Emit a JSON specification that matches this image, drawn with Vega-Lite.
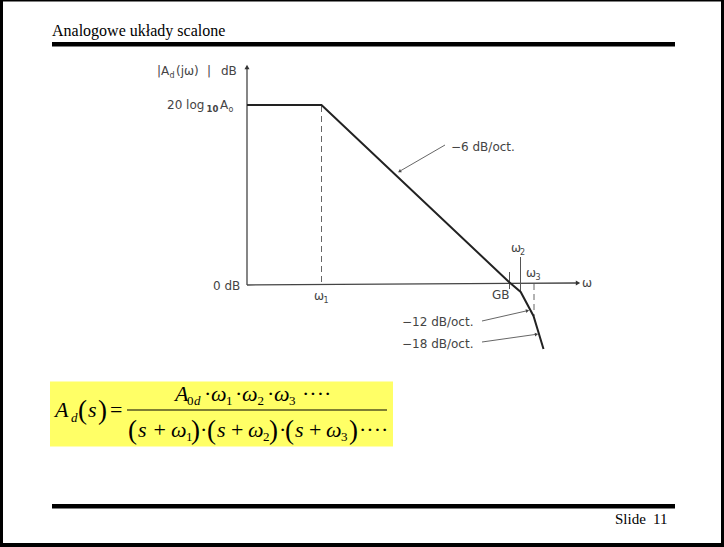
{
  "$schema": "https://vega.github.io/schema/vega-lite/v6.json",
  "width": 724,
  "height": 547,
  "padding": 0,
  "autosize": {"type": "fit", "contains": "padding"},
  "background": "white",
  "config": {"view": {"stroke": null}},
  "datasets": {
    "blocks": [
      {"k": "k", "x": 0, "x2": 724, "y": 0, "y2": 1.6},
      {"k": "k", "x": 0, "x2": 3, "y": 0, "y2": 547},
      {"k": "k", "x": 721, "x2": 724, "y": 0, "y2": 547},
      {"k": "k", "x": 0, "x2": 724, "y": 543, "y2": 547},
      {"k": "k", "x": 52, "x2": 675, "y": 42, "y2": 46.5},
      {"k": "k", "x": 52, "x2": 675, "y": 504, "y2": 508.5},
      {"k": "y", "x": 50, "x2": 393, "y": 381.5, "y2": 446.5}
    ],
    "segs": [
      {"k": "axis", "x": 247, "y": 68, "x2": 247, "y2": 285},
      {"k": "axis", "x": 247, "y": 285, "x2": 576, "y2": 283},
      {"k": "tick", "x": 509.5, "y": 272, "x2": 509.5, "y2": 289},
      {"k": "tick", "x": 520.5, "y": 257, "x2": 520.5, "y2": 292},
      {"k": "dash", "x": 321.5, "y": 106, "x2": 321.5, "y2": 285},
      {"k": "dash", "x": 534, "y": 284, "x2": 534, "y2": 316},
      {"k": "arrow", "x": 445, "y": 145, "x2": 401, "y2": 170.5},
      {"k": "arrow", "x": 482, "y": 321, "x2": 526, "y2": 311},
      {"k": "arrow", "x": 482, "y": 342, "x2": 535, "y2": 334.5},
      {"k": "frac", "x": 127, "y": 410, "x2": 387, "y2": 410}
    ],
    "curve": [
      {"o": 1, "x": 247, "y": 105},
      {"o": 2, "x": 321.5, "y": 105},
      {"o": 3, "x": 509, "y": 282},
      {"o": 4, "x": 520.7, "y": 292},
      {"o": 5, "x": 533.5, "y": 316},
      {"o": 6, "x": 543.5, "y": 349}
    ],
    "heads": [
      {"k": "up", "x": 247, "y": 67},
      {"k": "right", "x": 578, "y": 283},
      {"k": "a6", "x": 399.5, "y": 171.5},
      {"k": "a12", "x": 527.5, "y": 310.7},
      {"k": "a18", "x": 536.5, "y": 334.3}
    ],
    "txt": [
      {"f": "title", "x": 52, "y": 36, "t": "Analogowe układy scalone"},
      {"f": "slide", "x": 615, "y": 524, "t": "Slide"},
      {"f": "slide", "x": 653, "y": 524, "t": "11"},
      {"f": "lab", "x": 157, "y": 75, "t": "|"},
      {"f": "lab", "x": 161, "y": 75, "t": "A"},
      {"f": "lab", "x": 176, "y": 75, "t": "(jω)"},
      {"f": "lab", "x": 207, "y": 75, "t": "|"},
      {"f": "lab", "x": 221, "y": 75, "t": "dB"},
      {"f": "lab", "x": 167, "y": 109, "t": "20 log"},
      {"f": "lab", "x": 220, "y": 109, "t": "A"},
      {"f": "lab", "x": 213, "y": 290, "t": "0 dB"},
      {"f": "lab", "x": 314, "y": 300, "t": "ω"},
      {"f": "lab", "x": 492, "y": 299, "t": "GB"},
      {"f": "lab", "x": 511, "y": 252, "t": "ω"},
      {"f": "lab", "x": 526, "y": 277, "t": "ω"},
      {"f": "lab", "x": 582, "y": 287, "t": "ω"},
      {"f": "lab", "x": 451, "y": 151, "t": "−6 dB/oct."},
      {"f": "lab", "x": 402, "y": 326, "t": "−12 dB/oct."},
      {"f": "lab", "x": 402, "y": 348, "t": "−18 dB/oct."},
      {"f": "sub", "x": 169.5, "y": 78, "t": "d"},
      {"f": "subb", "x": 206.5, "y": 112, "t": "10"},
      {"f": "sub", "x": 228.5, "y": 112, "t": "o"},
      {"f": "sub", "x": 323.5, "y": 303, "t": "1"},
      {"f": "sub", "x": 520, "y": 255, "t": "2"},
      {"f": "sub", "x": 535.5, "y": 280, "t": "3"},
      {"f": "it", "x": 55, "y": 417, "t": "A"},
      {"f": "it", "x": 88, "y": 417, "t": "s"},
      {"f": "it", "x": 175, "y": 401, "t": "A"},
      {"f": "it", "x": 211, "y": 401, "t": "ω"},
      {"f": "it", "x": 242, "y": 401, "t": "ω"},
      {"f": "it", "x": 274, "y": 401, "t": "ω"},
      {"f": "it", "x": 138, "y": 437, "t": "s"},
      {"f": "it", "x": 217, "y": 437, "t": "s"},
      {"f": "it", "x": 295, "y": 437, "t": "s"},
      {"f": "it", "x": 171, "y": 437, "t": "ω"},
      {"f": "it", "x": 248, "y": 437, "t": "ω"},
      {"f": "it", "x": 326, "y": 437, "t": "ω"},
      {"f": "up", "x": 110, "y": 417, "t": "="},
      {"f": "up", "x": 204, "y": 401, "t": "·"},
      {"f": "up", "x": 235, "y": 401, "t": "·"},
      {"f": "up", "x": 267, "y": 401, "t": "·"},
      {"f": "up", "x": 302, "y": 401, "t": "····"},
      {"f": "up", "x": 153.5, "y": 437, "t": "+"},
      {"f": "up", "x": 231, "y": 437, "t": "+"},
      {"f": "up", "x": 309, "y": 437, "t": "+"},
      {"f": "up", "x": 200, "y": 437, "t": "·"},
      {"f": "up", "x": 279, "y": 437, "t": "·"},
      {"f": "up", "x": 359, "y": 437, "t": "····"},
      {"f": "par", "x": 78, "y": 419, "t": "("},
      {"f": "par", "x": 98, "y": 419, "t": ")"},
      {"f": "par", "x": 128, "y": 439, "t": "("},
      {"f": "par", "x": 191, "y": 439, "t": ")"},
      {"f": "par", "x": 207, "y": 439, "t": "("},
      {"f": "par", "x": 269, "y": 439, "t": ")"},
      {"f": "par", "x": 285, "y": 439, "t": "("},
      {"f": "par", "x": 349, "y": 439, "t": ")"},
      {"f": "sit", "x": 71, "y": 422, "t": "d"},
      {"f": "sit", "x": 194, "y": 405, "t": "d"},
      {"f": "sup", "x": 187, "y": 405, "t": "0"},
      {"f": "sup", "x": 226, "y": 405, "t": "1"},
      {"f": "sup", "x": 257.5, "y": 405, "t": "2"},
      {"f": "sup", "x": 289, "y": 405, "t": "3"},
      {"f": "sup", "x": 186, "y": 441, "t": "1"},
      {"f": "sup", "x": 263, "y": 441, "t": "2"},
      {"f": "sup", "x": 341, "y": 441, "t": "3"}
    ]
  },
  "encoding": {
    "x": {"field": "x", "type": "quantitative", "axis": null, "scale": {"domain": [0, 724], "nice": false, "zero": false}},
    "y": {"field": "y", "type": "quantitative", "axis": null, "scale": {"domain": [0, 547], "nice": false, "zero": false, "reverse": true}}
  },
  "layer": [
    {"data": {"name": "blocks"}, "transform": [{"filter": "datum.k === 'k'"}], "mark": {"type": "rect", "color": "black"}, "encoding": {"x2": {"field": "x2"}, "y2": {"field": "y2"}}},
    {"data": {"name": "blocks"}, "transform": [{"filter": "datum.k === 'y'"}], "mark": {"type": "rect", "color": "#ffff66"}, "encoding": {"x2": {"field": "x2"}, "y2": {"field": "y2"}}},
    {"data": {"name": "segs"}, "transform": [{"filter": "datum.k === 'axis'"}], "mark": {"type": "rule", "color": "#444", "strokeWidth": 1.3}, "encoding": {"x2": {"field": "x2"}, "y2": {"field": "y2"}}},
    {"data": {"name": "segs"}, "transform": [{"filter": "datum.k === 'tick'"}], "mark": {"type": "rule", "color": "#555", "strokeWidth": 1}, "encoding": {"x2": {"field": "x2"}, "y2": {"field": "y2"}}},
    {"data": {"name": "segs"}, "transform": [{"filter": "datum.k === 'dash'"}], "mark": {"type": "rule", "color": "#666", "strokeWidth": 1, "strokeDash": [6, 4]}, "encoding": {"x2": {"field": "x2"}, "y2": {"field": "y2"}}},
    {"data": {"name": "segs"}, "transform": [{"filter": "datum.k === 'arrow'"}], "mark": {"type": "rule", "color": "#555", "strokeWidth": 0.9}, "encoding": {"x2": {"field": "x2"}, "y2": {"field": "y2"}}},
    {"data": {"name": "segs"}, "transform": [{"filter": "datum.k === 'frac'"}], "mark": {"type": "rule", "color": "black", "strokeWidth": 1}, "encoding": {"x2": {"field": "x2"}, "y2": {"field": "y2"}}},
    {"data": {"name": "curve"}, "mark": {"type": "line", "color": "#222", "strokeWidth": 2}, "encoding": {"order": {"field": "o"}}},
    {"data": {"name": "heads"}, "transform": [{"filter": "datum.k === 'up'"}], "mark": {"type": "point", "shape": "triangle-up", "filled": true, "color": "#333", "size": 25, "opacity": 1}},
    {"data": {"name": "heads"}, "transform": [{"filter": "datum.k === 'right'"}], "mark": {"type": "point", "shape": "triangle-right", "filled": true, "color": "#333", "size": 25, "opacity": 1}},
    {"data": {"name": "heads"}, "transform": [{"filter": "datum.k === 'a6'"}], "mark": {"type": "point", "shape": "triangle-up", "filled": true, "color": "#444", "size": 14, "angle": 240, "opacity": 1}},
    {"data": {"name": "heads"}, "transform": [{"filter": "datum.k === 'a12'"}], "mark": {"type": "point", "shape": "triangle-up", "filled": true, "color": "#444", "size": 14, "angle": 77, "opacity": 1}},
    {"data": {"name": "heads"}, "transform": [{"filter": "datum.k === 'a18'"}], "mark": {"type": "point", "shape": "triangle-up", "filled": true, "color": "#444", "size": 14, "angle": 82, "opacity": 1}},
    {"data": {"name": "txt"}, "transform": [{"filter": "datum.f === 'title'"}], "mark": {"type": "text", "font": "Liberation Serif", "fontSize": 16, "color": "black", "align": "left", "baseline": "alphabetic"}, "encoding": {"text": {"field": "t"}}},
    {"data": {"name": "txt"}, "transform": [{"filter": "datum.f === 'slide'"}], "mark": {"type": "text", "font": "Liberation Serif", "fontSize": 15, "color": "black", "align": "left", "baseline": "alphabetic"}, "encoding": {"text": {"field": "t"}}},
    {"data": {"name": "txt"}, "transform": [{"filter": "datum.f === 'lab'"}], "mark": {"type": "text", "font": "DejaVu Sans", "fontSize": 12, "color": "#444", "align": "left", "baseline": "alphabetic"}, "encoding": {"text": {"field": "t"}}},
    {"data": {"name": "txt"}, "transform": [{"filter": "datum.f === 'sub'"}], "mark": {"type": "text", "font": "DejaVu Sans", "fontSize": 8, "color": "#444", "align": "left", "baseline": "alphabetic"}, "encoding": {"text": {"field": "t"}}},
    {"data": {"name": "txt"}, "transform": [{"filter": "datum.f === 'subb'"}], "mark": {"type": "text", "font": "DejaVu Sans", "fontSize": 8.5, "fontWeight": "bold", "color": "#444", "align": "left", "baseline": "alphabetic"}, "encoding": {"text": {"field": "t"}}},
    {"data": {"name": "txt"}, "transform": [{"filter": "datum.f === 'it'"}], "mark": {"type": "text", "font": "Liberation Serif", "fontStyle": "italic", "fontSize": 22, "color": "black", "align": "left", "baseline": "alphabetic"}, "encoding": {"text": {"field": "t"}}},
    {"data": {"name": "txt"}, "transform": [{"filter": "datum.f === 'up'"}], "mark": {"type": "text", "font": "Liberation Serif", "fontSize": 22, "color": "black", "align": "left", "baseline": "alphabetic"}, "encoding": {"text": {"field": "t"}}},
    {"data": {"name": "txt"}, "transform": [{"filter": "datum.f === 'par'"}], "mark": {"type": "text", "font": "Liberation Serif", "fontSize": 27, "color": "black", "align": "left", "baseline": "alphabetic"}, "encoding": {"text": {"field": "t"}}},
    {"data": {"name": "txt"}, "transform": [{"filter": "datum.f === 'sit'"}], "mark": {"type": "text", "font": "Liberation Serif", "fontStyle": "italic", "fontSize": 13, "color": "black", "align": "left", "baseline": "alphabetic"}, "encoding": {"text": {"field": "t"}}},
    {"data": {"name": "txt"}, "transform": [{"filter": "datum.f === 'sup'"}], "mark": {"type": "text", "font": "Liberation Serif", "fontSize": 13, "color": "black", "align": "left", "baseline": "alphabetic"}, "encoding": {"text": {"field": "t"}}}
  ]
}
